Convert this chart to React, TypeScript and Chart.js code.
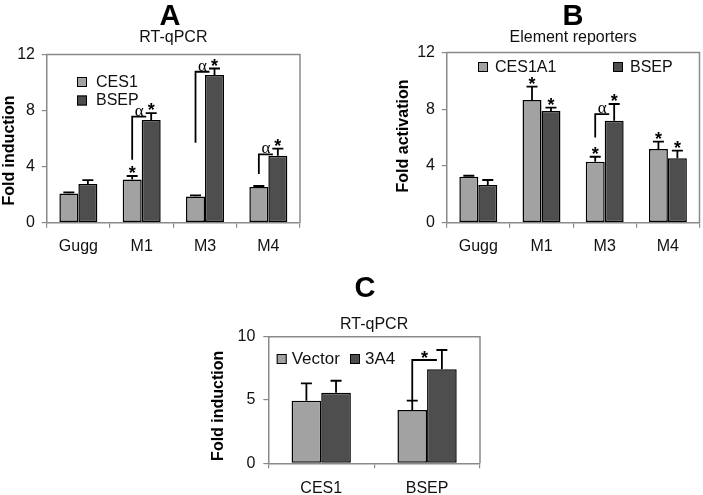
import React, { useEffect, useRef } from 'react';
import { Chart, registerables } from 'chart.js';
Chart.register(...registerables);

// ---------- Data ----------
const categoriesA = ['Gugg', 'M1', 'M3', 'M4'];
const ces1A = [2.08, 3.09, 1.87, 2.54];
const ces1ErrA = [0.08, 0.24, 0.08, 0.08];
const bsepA = [2.76, 7.32, 10.53, 4.77];
const bsepErrA = [0.28, 0.5, 0.47, 0.52];
const starsA = [[1, 0], [1, 1], [2, 1], [3, 1]]; // [category, series]
const bracketsA = [
  { cat: 1, low: 4.5, high: 7.57, mark: 'α' },
  { cat: 2, low: 5.7, high: 10.77, mark: 'α' },
  { cat: 3, low: 3.47, high: 4.88, mark: 'α' },
];

const categoriesB = ['Gugg', 'M1', 'M3', 'M4'];
const ces1a1B = [3.24, 8.65, 4.3, 5.2];
const ces1a1ErrB = [0.07, 0.94, 0.35, 0.51];
const bsepB = [2.66, 7.88, 7.19, 4.54];
const bsepErrB = [0.35, 0.23, 1.18, 0.54];
const starsB = [[1, 0], [1, 1], [2, 0], [2, 1], [3, 0], [3, 1]];
const bracketsB = [{ cat: 2, low: 6.0, high: 7.65, mark: 'α' }];

const categoriesC = ['CES1', 'BSEP'];
const vectorC = [4.95, 4.21];
const vectorErrC = [1.37, 0.74];
const a4C = [5.58, 7.42];
const a4ErrC = [0.94, 1.53];
const starsC: number[][] = [];
const bracketsC = [{ cat: 1, low: 5.0, high: 8.16, mark: '*' }];

// ---------- Styles ----------
const FONT = "'Liberation Sans', Arial, Helvetica, sans-serif";
const SERIF = "'Liberation Serif', 'Times New Roman', serif";
const AXIS = '#8a8a8a';
const LIGHT = '#a2a2a2';
const DARK = '#4e4e4e';
const TEXT = '#111';

const annotPlugin = {
  id: 'annot',
  afterDatasetsDraw(chart: any, _a: any, o: any) {
    const ctx = chart.ctx;
    const ca = chart.chartArea;
    const ys = chart.scales.y;
    ctx.save();
    // frame top & right
    ctx.strokeStyle = AXIS;
    ctx.lineWidth = 1.5;
    ctx.beginPath();
    ctx.moveTo(ca.left, ca.top);
    ctx.lineTo(ca.right, ca.top);
    ctx.lineTo(ca.right, ca.bottom);
    ctx.stroke();

    const capY = (di: number, i: number) => {
      const ds = chart.data.datasets[di];
      return ys.getPixelForValue(ds.data[i] + ds.errors[i]);
    };
    const barX = (di: number, i: number) => chart.getDatasetMeta(di).data[i].x;

    // error bars
    ctx.strokeStyle = '#000';
    ctx.lineWidth = 1.8;
    chart.data.datasets.forEach((_ds: any, di: number) => {
      chart.getDatasetMeta(di).data.forEach((bar: any, i: number) => {
        const t = capY(di, i);
        ctx.beginPath();
        ctx.moveTo(bar.x, bar.y);
        ctx.lineTo(bar.x, t);
        ctx.moveTo(bar.x - 5.5, t);
        ctx.lineTo(bar.x + 5.5, t);
        ctx.stroke();
      });
    });

    ctx.fillStyle = '#000';
    ctx.textAlign = 'center';
    ctx.textBaseline = 'alphabetic';
    ctx.font = `bold 18px ${FONT}`;
    o.stars.forEach(([i, di]: number[]) => {
      ctx.fillText('*', barX(di, i), capY(di, i) + 3);
    });

    o.brackets.forEach((b: any) => {
      const x0 = barX(0, b.cat);
      const x1 = barX(1, b.cat) - 5;
      const yl = ys.getPixelForValue(b.low);
      const yh = ys.getPixelForValue(b.high);
      ctx.strokeStyle = '#000';
      ctx.lineWidth = 1.8;
      ctx.beginPath();
      ctx.moveTo(x0, yl);
      ctx.lineTo(x0, yh);
      ctx.lineTo(x1, yh);
      ctx.stroke();
      const mx = (x0 + x1) / 2;
      if (b.mark === '*') {
        ctx.font = `bold 18px ${FONT}`;
        ctx.fillText('*', mx, yh + 4);
      } else {
        ctx.font = `17px ${SERIF}`;
        ctx.fillText(b.mark, mx, yh - 1);
      }
    });

    // legend
    const lg = o.legend;
    ctx.font = `${lg.size}px ${FONT}`;
    ctx.textAlign = 'left';
    ctx.textBaseline = 'middle';
    chart.data.datasets.forEach((ds: any, di: number) => {
      const bx = ca.left + lg.x + di * lg.dx;
      const by = ca.top + lg.y + di * lg.dy;
      ctx.fillStyle = ds.backgroundColor;
      ctx.fillRect(bx, by, 10, 10);
      ctx.strokeStyle = '#000';
      ctx.lineWidth = 1;
      ctx.strokeRect(bx + 0.5, by + 0.5, 9, 9);
      ctx.fillStyle = TEXT;
      ctx.fillText(ds.label, bx + lg.gap, by + 5.5);
    });

    // titles
    ctx.textAlign = 'center';
    ctx.textBaseline = 'alphabetic';
    ctx.fillStyle = '#000';
    ctx.font = `bold 29px ${FONT}`;
    ctx.fillText(o.letter, o.letterX, o.letterY);
    ctx.font = `16px ${FONT}`;
    ctx.fillStyle = TEXT;
    ctx.fillText(o.title, (ca.left + ca.right) / 2, o.titleY);

    // y axis title
    ctx.save();
    ctx.translate(o.yTitleX, o.yTitleY);
    ctx.rotate(-Math.PI / 2);
    ctx.textBaseline = 'middle';
    ctx.font = `bold 16px ${FONT}`;
    ctx.fillStyle = '#000';
    ctx.fillText(o.yTitle, 0, 0);
    ctx.restore();

    ctx.restore();
  },
};

type PanelDef = {
  left: number; top: number; w: number; h: number;
  area: { left: number; top: number; right: number; bottom: number };
  labels: string[];
  series: { label: string; values: number[]; errors: number[]; color: string }[];
  cp: number; max: number; step: number;
  xPad: number; yPad: number;
  annot: any;
};

function makeConfig(p: PanelDef): any {
  return {
    type: 'bar',
    data: {
      labels: p.labels,
      datasets: p.series.map((s) => ({
        label: s.label,
        data: s.values,
        errors: s.errors,
        backgroundColor: s.color,
        borderColor: '#000',
        borderWidth: 1.5,
        borderSkipped: false,
        categoryPercentage: p.cp,
        barPercentage: 1,
      })),
    },
    options: {
      animation: false,
      responsive: false,
      maintainAspectRatio: false,
      layout: { padding: { top: p.area.top, right: p.w - p.area.right, left: 0, bottom: 0 } },
      plugins: {
        legend: { display: false },
        title: { display: false },
        tooltip: { enabled: false },
        annot: p.annot,
      },
      scales: {
        x: {
          grid: { display: true, drawOnChartArea: false, drawTicks: true, tickLength: 5, color: AXIS, lineWidth: 1.2, offset: true },
          border: { display: true, color: AXIS, width: 1.5 },
          ticks: { color: TEXT, font: { family: FONT, size: 16 }, padding: p.xPad, maxRotation: 0, autoSkip: false },
          afterFit: (s: any) => { s.height = p.h - p.area.bottom; },
        },
        y: {
          min: 0,
          max: p.max,
          ticks: { stepSize: p.step, color: TEXT, font: { family: FONT, size: 16 }, padding: p.yPad },
          grid: { drawOnChartArea: false, drawTicks: true, tickLength: 5, color: AXIS, lineWidth: 1.2 },
          border: { display: true, color: AXIS, width: 1.5 },
          afterFit: (s: any) => { s.width = p.area.left; },
        },
      },
    },
    plugins: [annotPlugin],
  };
}

const panelA: PanelDef = {
  left: 0, top: 0, w: 350, h: 260,
  area: { left: 46.7, top: 54.5, right: 300, bottom: 222.7 },
  labels: categoriesA,
  series: [
    { label: 'CES1', values: ces1A, errors: ces1ErrA, color: LIGHT },
    { label: 'BSEP', values: bsepA, errors: bsepErrA, color: DARK },
  ],
  cp: 0.6, max: 12, step: 4, xPad: 9.3, yPad: 6.7,
  annot: {
    stars: starsA, brackets: bracketsA,
    legend: { x: 30.3, y: 22.5, dx: 0, dy: 18.5, size: 16, gap: 19 },
    letter: 'A', letterX: 170, letterY: 25, title: 'RT-qPCR', titleY: 41.7,
    yTitle: 'Fold induction', yTitleX: 10, yTitleY: 150.5,
  },
};

const panelB: PanelDef = {
  left: 350, top: 0, w: 353, h: 260,
  area: { left: 96.7, top: 52.5, right: 349.5, bottom: 222.7 },
  labels: categoriesB,
  series: [
    { label: 'CES1A1', values: ces1a1B, errors: ces1a1ErrB, color: LIGHT },
    { label: 'BSEP', values: bsepB, errors: bsepErrB, color: DARK },
  ],
  cp: 0.6, max: 12, step: 4, xPad: 9.3, yPad: 6.7,
  annot: {
    stars: starsB, brackets: bracketsB,
    legend: { x: 31.3, y: 9.5, dx: 135, dy: 0, size: 16, gap: 17 },
    letter: 'B', letterX: 223, letterY: 25, title: 'Element reporters', titleY: 41.7,
    yTitle: 'Fold activation', yTitleX: 53.5, yTitleY: 136,
  },
};

const panelC: PanelDef = {
  left: 180, top: 260, w: 340, h: 235,
  area: { left: 88.3, top: 76.7, right: 300, bottom: 203.3 },
  labels: categoriesC,
  series: [
    { label: 'Vector', values: vectorC, errors: vectorErrC, color: LIGHT },
    { label: '3A4', values: a4C, errors: a4ErrC, color: DARK },
  ],
  cp: 0.56, max: 10, step: 5, xPad: 10.4, yPad: 8,
  annot: {
    stars: starsC, brackets: bracketsC,
    legend: { x: 8.4, y: 17.3, dx: 73.3, dy: 0, size: 17, gap: 15 },
    letter: 'C', letterX: 185, letterY: 37, title: 'RT-qPCR', titleY: 69.3,
    yTitle: 'Fold induction', yTitleX: 39, yTitleY: 145.8,
  },
};

function Panel({ def }: { def: PanelDef }) {
  const ref = useRef<HTMLCanvasElement | null>(null);
  useEffect(() => {
    if (!ref.current) return;
    const chart = new Chart(ref.current, makeConfig(def));
    return () => chart.destroy();
  }, [def]);
  return (
    <canvas
      ref={ref}
      width={def.w}
      height={def.h}
      style={{ position: 'absolute', left: def.left, top: def.top, width: def.w, height: def.h }}
    />
  );
}

export default function App() {
  return (
    <div style={{ position: 'absolute', left: 0, top: 0, width: 703, height: 495, background: '#fff' }}>
      <Panel def={panelA} />
      <Panel def={panelB} />
      <Panel def={panelC} />
    </div>
  );
}
